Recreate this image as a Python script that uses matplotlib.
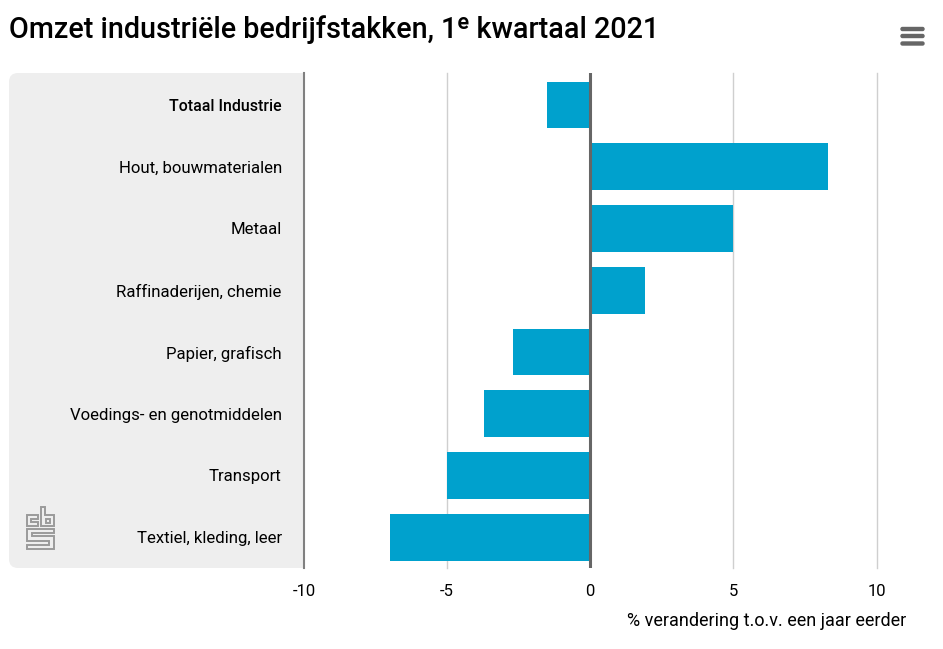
import matplotlib
matplotlib.use("Agg")
import matplotlib.pyplot as plt
from matplotlib.patches import FancyBboxPatch, Polygon, Rectangle

categories = ["Totaal Industrie", "Hout, bouwmaterialen", "Metaal", "Raffinaderijen, chemie",
              "Papier, grafisch", "Voedings- en genotmiddelen", "Transport", "Textiel, kleding, leer"]
values = [-1.5, 8.3, 5.0, 1.9, -2.7, -3.7, -5.0, -7.0]
ticks = [-10, -5, 0, 5, 10]

W, H = 943, 649
plt.rcParams["font.family"] = ["Roboto", "DejaVu Sans"]
fig = plt.figure(figsize=(W / 100, H / 100), dpi=100)

# plot area in pixels: x -10 at 304, 10 at 876.5; rows from y=73 to 568
left, right, top, bottom = 304, 876.5, 73, 568
ax = fig.add_axes([left / W, 1 - bottom / H, (right - left) / W, (bottom - top) / H])
ax.set_xlim(-10, 10)
ax.set_ylim(7.498, -0.518)
ax.patch.set_alpha(0)

# grey panel behind the labels
bg = fig.add_axes([0, 0, 1, 1], zorder=-1)
bg.set_xlim(0, W)
bg.set_ylim(H, 0)
bg.axis("off")
bg.add_patch(FancyBboxPatch((9, 73), 295, 495, boxstyle="round,pad=0,rounding_size=9", fc="#eeeeee", ec="none"))
bg.add_patch(Rectangle((280, 73), 24, 495, fc="#eeeeee", ec="none"))

for t in ticks:
    if t not in (-10, 0):
        ax.axvline(t, color="#cfcfcf", lw=1, zorder=1, clip_on=False)
ax.barh(range(len(categories)), values, height=0.76, color="#00a1cd", zorder=2)
ax.axvline(-10, color="#808080", lw=1.5, zorder=3, clip_on=False)
ax.axvline(0, color="#666666", lw=2.2, zorder=3)

for s in ax.spines.values():
    s.set_visible(False)
ax.set_xticks(ticks)
ax.set_xticklabels([str(t) for t in ticks], fontsize=12)
ax.tick_params(axis="x", length=0, pad=11.5)
ax.set_yticks(range(len(categories)))
ax.set_yticklabels(categories, fontsize=12.1)
ax.get_yticklabels()[0].set_fontweight("medium")
ax.get_yticklabels()[0].set_fontsize(11.4)
ax.tick_params(axis="y", length=0, pad=16)

fig.text(906 / W, 1 - 621 / H, "% verandering t.o.v. een jaar eerder", ha="right", va="center", fontsize=13)
fig.text(9 / W, 1 - 30 / H, "Omzet industriële bedrijfstakken, 1ᵉ kwartaal 2021", ha="left", va="center", fontsize=20.7, fontweight="medium")

# menu icon
for y in (27.5, 34.5, 42):
    bg.add_patch(FancyBboxPatch((901, y), 23, 3, boxstyle="round,pad=0,rounding_size=1.5", fc="#666666", ec="#666666", lw=1))

# cbs logo, drawn as three outlined shapes plus the hole in the b
logo_c = [(27, 515), (38, 515), (38, 519), (31, 519), (31, 522), (38, 522), (38, 526), (27, 526)]
logo_b = [(41, 507), (45, 507), (45, 515), (54, 515), (54, 526), (41, 526)]
logo_b_hole = [(45.5, 519), (50, 519), (50, 522.5), (45.5, 522.5)]
logo_s = [(27, 529), (54, 529), (54, 533), (32, 533), (32, 536), (54, 536), (54, 549),
          (27, 549), (27, 545), (49, 545), (49, 541), (27, 541)]
for shape in (logo_c, logo_b, logo_b_hole, logo_s):
    bg.add_patch(Polygon(shape, closed=True, fc="none", ec="#9a9a9a", lw=1.4, joinstyle="miter"))

fig.savefig("out.png", dpi=100)
